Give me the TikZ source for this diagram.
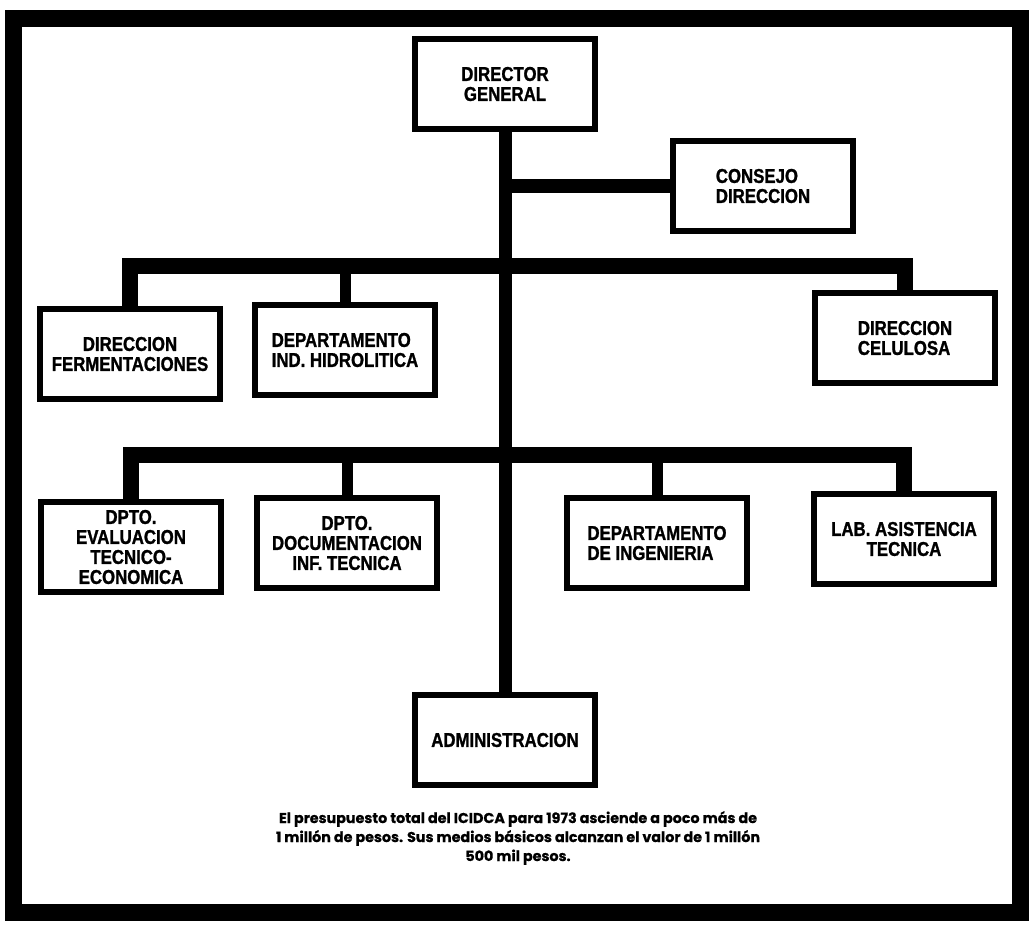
\documentclass[tikz,border=0pt]{standalone}
\usepackage{fontspec}
\setmainfont{Liberation Sans}
\newfontfamily\boxfont[FakeStretch=0.84,FakeBold=1.2]{Liberation Sans}
\newfontfamily\capfont[FakeBold=0.6]{Poppins}
\begin{document}
\begin{tikzpicture}[x=1pt,y=-1pt,
  orgbox/.style={draw=black, line width=6pt, fill=white, minimum width=180pt,
    minimum height=90pt, inner sep=2pt,
    font=\boxfont\bfseries\fontsize{20}{20}\selectfont},
  bus/.style={line width=16pt, line join=miter, line cap=butt},
  trunkline/.style={line width=13pt, line cap=butt},
  tap/.style={line width=11pt, line cap=butt},
  sidebar/.style={line width=14pt, line cap=butt},
  framebox/.style={line width=17pt}]
\useasboundingbox (0,0) rectangle (1034,930);
\fill[white] (0,0) rectangle (1034,930);
\draw[framebox] (13,18) rectangle (1020,912);

\node[orgbox, align=center] (DG) at (505,84) {DIRECTOR\\GENERAL};
\node[orgbox, align=left] (CD) at (763,186) {CONSEJO\\DIRECCION};
\node[orgbox, align=center] (FE) at (130,354) {DIRECCION\\FERMENTACIONES};
\node[orgbox, align=left] (HI) at (345,350) {DEPARTAMENTO\\IND. HIDROLITICA};
\node[orgbox, align=left] (CE) at (905,338) {DIRECCION\\CELULOSA};
\node[orgbox, align=center] (EV) at (131,547) {DPTO.\\EVALUACION\\TECNICO-\\ECONOMICA};
\node[orgbox, align=center] (DO) at (347,543) {DPTO.\\DOCUMENTACION\\INF. TECNICA};
\node[orgbox, align=left] (IN) at (657,543) {DEPARTAMENTO\\DE INGENIERIA};
\node[orgbox, align=center] (AS) at (904,539) {LAB. ASISTENCIA\\TECNICA};
\node[orgbox] (AD) at (505,740) {ADMINISTRACION};

\node[align=center, font=\capfont\bfseries\fontsize{14.3}{19}\selectfont] (CAP) at (518,838)
  {El presupuesto total del ICIDCA para 1973 asciende a poco más de\\
   1 millón de pesos. Sus medios básicos alcanzan el valor de 1 millón\\
   500 mil pesos.};

\coordinate (b1) at (505,266);
\coordinate (b2) at (505,455);
\coordinate (cj) at (DG.south |- CD.west);

\draw[trunkline] (DG.south) -- (DG.south |- AD.north);
\draw[sidebar] (cj) -- (CD.west);
\draw[bus] (FE.north) |- (b1) -| (CE.north);
\draw[tap] (HI.north) -- (HI.north |- b1);
\draw[bus] (EV.north) |- (b2) -| (AS.north);
\draw[tap] (DO.north) -- (DO.north |- b2);
\draw[tap] (IN.north) -- (IN.north |- b2);
\end{tikzpicture}
\end{document}
